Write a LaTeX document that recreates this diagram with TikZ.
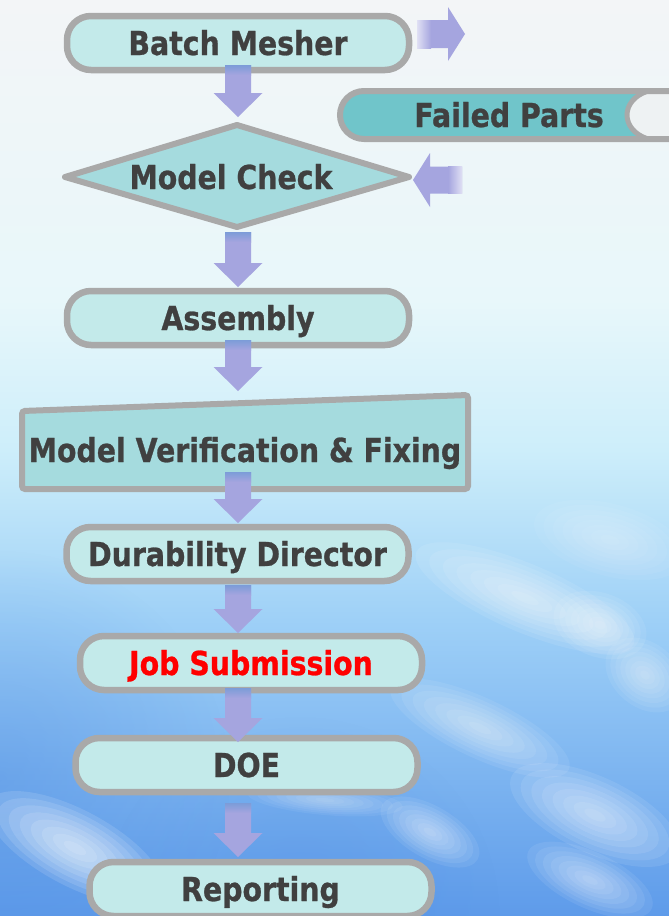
\documentclass[tikz,border=0pt]{standalone}
\usepackage{fontspec}
\newfontfamily\labfont[FakeStretch=0.86, FakeBold=0.8]{DejaVu Sans}
\usetikzlibrary{calc,fadings}
\tikzfading[name=puff, inner color=transparent!0, outer color=transparent!100]
\definecolor{boxfill}{HTML}{C3EAEA}
\definecolor{dfill}{HTML}{A5DBDE}
\definecolor{fpfill}{HTML}{70C5CA}
\definecolor{bord}{HTML}{A9A9A9}
\definecolor{txt}{HTML}{404040}
\definecolor{flowc}{HTML}{A5A5DF}
\definecolor{flowtop}{HTML}{7C9CD8}
\definecolor{skyA}{HTML}{F3F5F7}
\definecolor{skyB}{HTML}{E8F7FA}
\definecolor{skyC}{HTML}{CDEEFA}
\definecolor{skyD}{HTML}{9ED0F7}
\definecolor{skyE}{HTML}{5E9BEA}
\definecolor{skyL}{HTML}{4A88E0}
\definecolor{fpend}{HTML}{EEF2F3}
\newcommand\downflow[2]{%
  \fill[flowc] let \p1=(#1), \p2=(#2) in
    (\x1-13pt,\y1) -- (\x1+13pt,\y1) -- (\x1+13pt,\y2+24pt) -- (\x1+24.5pt,\y2+24pt)
    -- (\x1,\y2) -- (\x1-24.5pt,\y2+24pt) -- (\x1-13pt,\y2+24pt) -- cycle;
  \shade[top color=flowtop, bottom color=flowc] let \p1=(#1) in
    (\x1-13pt,\y1) rectangle (\x1+13pt,\y1-10pt);}
\newcommand\rightflow[2]{%
  \fill[flowc] let \p1=(#1), \p2=(#2) in
    (\x1,\y1+14pt) -- (\x2-17pt,\y1+14pt) -- (\x2-17pt,\y1+27pt) -- (\x2,\y1)
    -- (\x2-17pt,\y1-27pt) -- (\x2-17pt,\y1-14pt) -- (\x1,\y1-14pt) -- cycle;
  \shade[left color=flowc!35!white, right color=flowc] let \p1=(#1) in
    (\x1,\y1+14pt) rectangle (\x1+14pt,\y1-14pt);}
\newcommand\leftflow[2]{%
  \fill[flowc] let \p1=(#1), \p2=(#2) in
    (\x1,\y1+13.5pt) -- (\x2+17pt,\y1+13.5pt) -- (\x2+17pt,\y1+27pt) -- (\x2,\y1)
    -- (\x2+17pt,\y1-27pt) -- (\x2+17pt,\y1-13.5pt) -- (\x1,\y1-13.5pt) -- cycle;
  \shade[right color=flowc!35!white, left color=flowc] let \p1=(#1) in
    (\x1-14pt,\y1+13.5pt) rectangle (\x1,\y1-13.5pt);}
% soft cloud: x, y, x radius, y radius, angle, layer opacity
\newcommand\softcloud[6]{%
  \begin{scope}[shift={(#1,#2)}, rotate=#5]
    \foreach \k in {1,...,8} {\fill[white, opacity=#6] (0,0) ellipse [x radius={#3*\k/8}, y radius={#4*\k/8}];}
  \end{scope}}
\tikzset{
  lab/.style={font=\labfont\bfseries\fontsize{33}{36}\selectfont, text=txt,
    text height=24pt, text depth=0pt, inner sep=0pt, outer sep=0pt},
  pill/.style={lab, draw=bord, line width=6.5pt, fill=boxfill, rounded corners=24pt,
    minimum width=342pt, minimum height=54pt},
  ghost/.style={lab, minimum width=#1},
}
\begin{document}
\begin{tikzpicture}[x=1pt,y=-1pt]
\useasboundingbox (0,0) rectangle (669,916);
\clip (0,0) rectangle (669,916);
% sky
\shade[top color=skyA, bottom color=skyB] (0,0) rectangle (669,300.5);
\shade[top color=skyB, bottom color=skyC] (0,300) rectangle (669,450.5);
\shade[top color=skyC, bottom color=skyD] (0,450) rectangle (669,620.5);
\shade[top color=skyD, bottom color=skyE] (0,620) rectangle (669,916);
\fill[skyL, path fading=puff, opacity=0.35] (0,780) circle[radius=230];
\fill[skyL, path fading=puff, opacity=0.3] (300,916) circle[radius=200];
% clouds
\softcloud{525}{598}{118}{34}{-23}{0.09}
\softcloud{610}{540}{78}{36}{-15}{0.05}
\softcloud{600}{625}{48}{32}{-20}{0.08}
\softcloud{480}{728}{98}{30}{-25}{0.08}
\softcloud{595}{815}{92}{38}{-25}{0.09}
\softcloud{590}{880}{68}{28}{-25}{0.08}
\softcloud{430}{832}{55}{26}{-30}{0.08}
\softcloud{75}{848}{98}{38}{-28}{0.12}
\softcloud{160}{885}{45}{20}{-20}{0.08}
\softcloud{345}{662}{50}{22}{-25}{0.06}
\softcloud{325}{800}{78}{15}{-5}{0.06}
\softcloud{645}{675}{44}{32}{-40}{0.07}
% Failed Parts shape
\fill[fpend] (648,91) .. controls (620,100) and (620,130) .. (648,139) -- (680,139) -- (680,91) -- cycle;
\fill[fpfill] (648,91) -- (364,91) arc[start angle=90, end angle=270, radius=24pt]
  -- (648,139) .. controls (620,130) and (620,100) .. (648,91) -- cycle;
\draw[bord, line width=6pt] (680,91) -- (364,91) arc[start angle=90, end angle=270, radius=24pt] -- (680,139);
\draw[bord, line width=5pt] (648,91) .. controls (620,100) and (620,130) .. (648,139);
\node[lab] (fp) at (509,115) {Failed Parts};
% boxes
\node[pill] (bm) at (238,43) {Batch Mesher};
\coordinate (mcN) at (237,125);
\coordinate (mcE) at (409,177);
\coordinate (mcS) at (237,227);
\coordinate (mcW) at (65,177);
\draw[bord, line width=6pt, fill=dfill, line join=round] (mcW) -- (mcN) -- (mcE) -- (mcS) -- cycle;
\node[lab] (mc) at (231,177) {Model Check};
\node[pill] (as) at (238,318) {Assembly};
\draw[bord, line width=6pt, fill=dfill, rounded corners=3pt] (22,411) -- (468,395) -- (468,489) -- (22,489) -- cycle;
\node[ghost=446pt, minimum height=78pt] (mv) at (245,450) {Model Verification \& Fixing};
\node[pill] (dd) at (237.5,554) {Durability Director};
\node[pill, text=red] (js) at (251,663) {Job Submission};
\node[pill] (doe) at (246.5,765) {DOE};
\node[pill] (rep) at (260.5,889) {Reporting};
% connectors
\coordinate (axis) at (238,0);
\coordinate (bmout) at (465,34);
\coordinate (fpin) at (462,180);
\downflow{$(axis|-bm.south)+(0,-5)$}{$(axis|-mcN)+(0,-8)$}
\downflow{$(axis|-mcS)+(0,5)$}{$(axis|-as.north)+(0,-4)$}
\downflow{$(axis|-as.south)+(0,-5)$}{$(axis|-mv.north)+(0,-20)$}
\downflow{$(axis|-mv.south)+(0,-17)$}{$(axis|-dd.north)+(0,-4)$}
\downflow{$(axis|-dd.south)+(0,4)$}{$(axis|-js.north)+(0,-3)$}
\downflow{$(axis|-js.south)+(0,-2)$}{$(axis|-doe.north)+(0,4)$}
\downflow{$(axis|-doe.south)+(0,11)$}{$(axis|-rep.north)+(0,-5)$}
\rightflow{$(bm.east|-bmout)+(8,0)$}{bmout}
\leftflow{fpin}{$(mcE|-fpin)+(4,0)$}
\end{tikzpicture}
\end{document}
